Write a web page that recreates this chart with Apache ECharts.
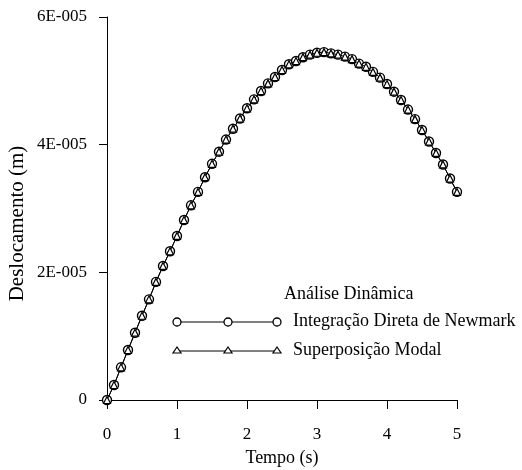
<!DOCTYPE html>
<html>
<head>
<meta charset="utf-8">
<script src="https://cdn.jsdelivr.net/npm/echarts@6/dist/echarts.min.js"></script>
<style>
html,body{margin:0;padding:0;background:#fff;}
#chart{width:522px;height:470px;}
</style>
</head>
<body>
<div id="chart"></div>
<script>
const timeValues = [0,0.1,0.2,0.3,0.4,0.5,0.6,0.7,0.8,0.9,1.0,1.1,1.2,1.3,1.4,1.5,1.6,1.7,1.8,1.9,2.0,2.1,2.2,2.3,2.4,2.5,2.6,2.7,2.8,2.9,3.0,3.1,3.2,3.3,3.4,3.5,3.6,3.7,3.8,3.9,4.0,4.1,4.2,4.3,4.4,4.5,4.6,4.7,4.8,4.9,5.0];
const newmarkValues = [0,0.235e-5,0.512e-5,0.783e-5,1.054e-5,1.32e-5,1.577e-5,1.85e-5,2.10e-5,2.33e-5,2.57e-5,2.82e-5,3.05e-5,3.26e-5,3.49e-5,3.70e-5,3.89e-5,4.08e-5,4.25e-5,4.41e-5,4.57e-5,4.71e-5,4.84e-5,4.96e-5,5.06e-5,5.17e-5,5.26e-5,5.31e-5,5.37e-5,5.41e-5,5.44e-5,5.45e-5,5.43e-5,5.41e-5,5.38e-5,5.34e-5,5.27e-5,5.22e-5,5.14e-5,5.05e-5,4.95e-5,4.83e-5,4.70e-5,4.55e-5,4.40e-5,4.23e-5,4.05e-5,3.87e-5,3.69e-5,3.47e-5,3.26e-5];
const modalValues = [0,0.235e-5,0.512e-5,0.783e-5,1.054e-5,1.32e-5,1.577e-5,1.85e-5,2.10e-5,2.33e-5,2.57e-5,2.82e-5,3.05e-5,3.26e-5,3.49e-5,3.70e-5,3.89e-5,4.08e-5,4.25e-5,4.41e-5,4.57e-5,4.71e-5,4.84e-5,4.96e-5,5.06e-5,5.17e-5,5.26e-5,5.31e-5,5.37e-5,5.41e-5,5.44e-5,5.45e-5,5.43e-5,5.41e-5,5.38e-5,5.34e-5,5.27e-5,5.22e-5,5.14e-5,5.05e-5,4.95e-5,4.83e-5,4.70e-5,4.55e-5,4.40e-5,4.23e-5,4.05e-5,3.87e-5,3.69e-5,3.47e-5,3.26e-5];
const xTickLabels = ['0','1','2','3','4','5'];
const yTickLabels = ['0','2E-005','4E-005','6E-005'];
const seriesNames = ['Integração Direta de Newmark','Superposição Modal'];
const legendTitle = 'Análise Dinâmica';
const xAxisName = 'Tempo (s)';
const yAxisName = 'Deslocamento (m)';

const FONT = '"Liberation Serif", "Times New Roman", serif';
const chart = echarts.init(document.getElementById('chart'), null, {renderer:'canvas'});

const newmarkData = timeValues.map((t,i)=>[t,newmarkValues[i]]);
const modalData = timeValues.map((t,i)=>[t,modalValues[i]]);

const legendLineStyle = {stroke:'#000', lineWidth:1};
const option = {
  animation:false,
  backgroundColor:'#fff',
  grid:{left:107, top:17, right:65, bottom:70, containLabel:false, outerBoundsMode:'none'},
  xAxis:{
    type:'value', min:0, max:5, interval:1,
    name:xAxisName, nameLocation:'middle', nameGap:49, nameMoveOverlap:false,
    nameTextStyle:{fontFamily:FONT, fontSize:18, color:'#000'},
    axisLine:{show:true, onZero:false, lineStyle:{color:'#000', width:1}},
    axisTick:{show:true, inside:false, length:9, lineStyle:{color:'#000'}},
    axisLabel:{margin:26, fontFamily:FONT, fontSize:17, color:'#000',
      formatter:(v)=>xTickLabels[Math.round(v)]},
    splitLine:{show:false}
  },
  yAxis:{
    type:'value', min:0, max:6e-5, interval:2e-5,
    name:yAxisName, nameLocation:'middle', nameGap:79, nameRotate:90, nameMoveOverlap:false,
    nameTextStyle:{fontFamily:FONT, fontSize:21, color:'#000', padding:[0,30,0,0]},
    axisLine:{show:true, onZero:false, lineStyle:{color:'#000', width:1}},
    axisTick:{show:true, inside:false, length:8, lineStyle:{color:'#000'}},
    axisLabel:{margin:20, fontFamily:FONT, fontSize:17, color:'#000',
      formatter:(v)=>yTickLabels[Math.round(v/2e-5)]},
    splitLine:{show:false}
  },
  series:[
    {name:seriesNames[0], type:'line', data:newmarkData, symbol:'circle', symbolSize:9,
      showAllSymbol:true, showSymbol:true, z:2,
      lineStyle:{color:'#000', width:1}, itemStyle:{color:'#fff', borderColor:'#000', borderWidth:1.4}},
    {name:seriesNames[1], type:'line', data:modalData, symbol:'triangle', symbolSize:7,
      showAllSymbol:true, showSymbol:true, z:3,
      lineStyle:{color:'#000', width:1}, itemStyle:{color:'#fff', borderColor:'#000', borderWidth:1.2}}
  ],
  graphic:[
    {type:'text', left:284, top:285, style:{text:legendTitle, font:'18px '+FONT, fill:'#000'}},
    {type:'line', shape:{x1:177,y1:322,x2:277,y2:322}, style:legendLineStyle},
    {type:'circle', shape:{cx:177,cy:322,r:4}, style:{fill:'#fff', stroke:'#000', lineWidth:1.3}},
    {type:'circle', shape:{cx:228,cy:322,r:4}, style:{fill:'#fff', stroke:'#000', lineWidth:1.3}},
    {type:'circle', shape:{cx:277,cy:322,r:4}, style:{fill:'#fff', stroke:'#000', lineWidth:1.3}},
    {type:'text', left:293, top:312, style:{text:seriesNames[0], font:'18px '+FONT, fill:'#000'}},
    {type:'line', shape:{x1:177,y1:351,x2:277,y2:351}, style:legendLineStyle},
    {type:'polygon', shape:{points:[[177,347],[181,353],[173,353]]}, style:{fill:'#fff', stroke:'#000', lineWidth:1.2}},
    {type:'polygon', shape:{points:[[228,347],[232,353],[224,353]]}, style:{fill:'#fff', stroke:'#000', lineWidth:1.2}},
    {type:'polygon', shape:{points:[[277,347],[281,353],[273,353]]}, style:{fill:'#fff', stroke:'#000', lineWidth:1.2}},
    {type:'text', left:293, top:341, style:{text:seriesNames[1], font:'18px '+FONT, fill:'#000'}}
  ]
};
chart.setOption(option);
</script>
</body>
</html>
